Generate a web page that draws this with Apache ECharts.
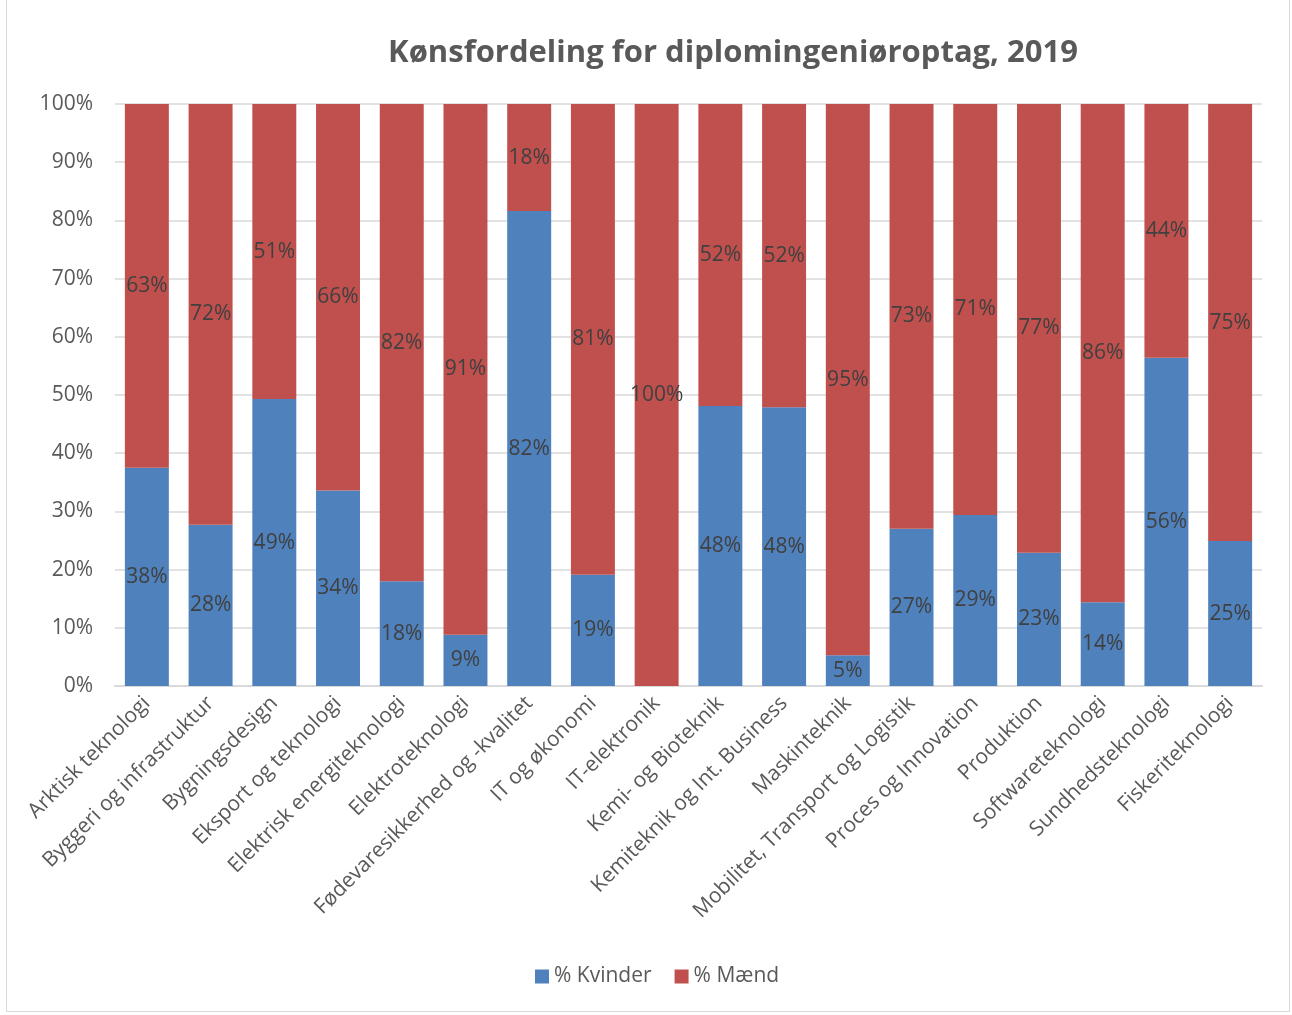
<!DOCTYPE html>
<html>
<head>
<meta charset="utf-8">
<script src="https://cdn.jsdelivr.net/npm/echarts@6/dist/echarts.min.js"></script>
<style>html,body{margin:0;padding:0;background:#fff;}#c{width:1292px;height:1015px;}</style>
</head>
<body>
<div id="c"></div>
<script>
const categories = ["Arktisk teknologi","Byggeri og infrastruktur","Bygningsdesign","Eksport og teknologi","Elektrisk energiteknologi","Elektroteknologi","Fødevaresikkerhed og -kvalitet","IT og økonomi","IT-elektronik","Kemi- og Bioteknik","Kemiteknik og Int. Business","Maskinteknik","Mobilitet, Transport og Logistik","Proces og Innovation","Produktion","Softwareteknologi","Sundhedsteknologi","Fiskeriteknologi"];
const kvinder = [37.5,27.7,49.3,33.6,18.0,8.8,81.6,19.1,0,48.1,47.9,5.3,27.0,29.4,22.9,14.4,56.4,24.9];
const maend = [62.5,72.3,50.7,66.4,82.0,91.2,18.4,80.9,100,51.9,52.1,94.7,73.0,70.6,77.1,85.6,43.6,75.1];
const yTicks = [0,10,20,30,40,50,60,70,80,90,100];

const chart = echarts.init(document.getElementById('c'), null, {renderer:'canvas'});
const FONT = "'Open Sans', 'Noto Sans', sans-serif";
const lbl = {show:true, position:'inside', color:'#404040', fontSize:21, fontFamily:FONT,
  formatter: p => p.value === 0 ? '' : Math.round(p.value) + '%'};
chart.setOption({
  animation:false,
  backgroundColor:'#fff',
  title:{text:'Kønsfordeling for diplomingeniøroptag, 2019', left:728, top:33, textAlign:'center',
    textStyle:{fontFamily:FONT, fontWeight:'bold', fontSize:31, color:'#595959'}},
  legend:{bottom:23, left:530, itemWidth:14, itemHeight:14, itemGap:23, icon:'rect',
    textStyle:{fontFamily:FONT, fontSize:21, color:'#595959'}, data:['% Kvinder','% Mænd']},
  grid:{left:115, right:30, top:104, bottom:329, containLabel:false},
  xAxis:{type:'category', data:categories,
    axisLine:{lineStyle:{color:'#d9d9d9', width:2}}, axisTick:{show:false},
    axisLabel:{rotate:45, interval:0, fontFamily:FONT, fontSize:21, color:'#595959', margin:14}},
  yAxis:{type:'value', min:0, max:100, interval:10,
    axisLine:{show:false}, axisTick:{show:false},
    splitLine:{lineStyle:{color:'#d9d9d9', width:1.5}},
    axisLabel:{formatter: v => yTicks.includes(v) ? v + '%' : '', fontFamily:FONT, fontSize:21, color:'#595959', margin:22}},
  series:[
    {name:'% Kvinder', type:'bar', stack:'s', data:kvinder, barCategoryGap:'31%',
      itemStyle:{color:'#4f81bd'}, label:lbl},
    {name:'% Mænd', type:'bar', stack:'s', data:maend,
      itemStyle:{color:'#c0504d'}, label:lbl}
  ],
  graphic:[{type:'rect', shape:{x:6.5, y:-2, width:1283, height:1013.5}, style:{fill:'none', stroke:'#d9d9d9', lineWidth:1}, silent:true}]
});
</script>
</body>
</html>
